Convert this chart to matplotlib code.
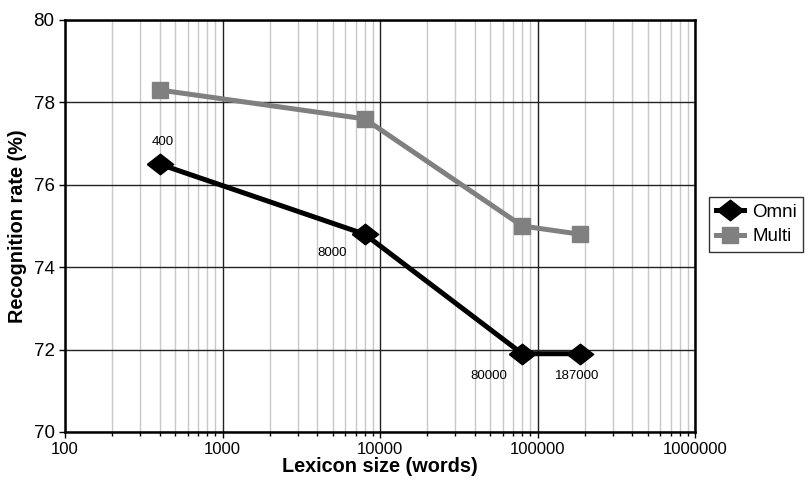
import matplotlib.pyplot as plt
from matplotlib.ticker import LogLocator, FixedLocator, NullFormatter

plt.rcParams["font.family"] = ["Liberation Sans", "DejaVu Sans"]

# data
lexicon_size = [400, 8000, 80000, 187000]
omni_rate = [76.5, 74.8, 71.9, 71.9]
multi_rate = [78.3, 77.6, 75.0, 74.8]
point_labels = ["400", "8000", "80000", "187000"]
x_ticks = [100, 1000, 10000, 100000, 1000000]
x_tick_labels = ["100", "1000", "10000", "100000", "1000000"]
y_ticks = [70, 72, 74, 76, 78, 80]

# slightly wide diamond, like the Excel marker
wide_diamond = [(-1, 0), (0, 0.78), (1, 0), (0, -0.78), (-1, 0)]

fig = plt.figure(figsize=(8.1, 4.83), dpi=100)
ax = fig.add_axes([65 / 810, 51 / 483, 630 / 810, 412 / 483])

ax.set_xscale("log")
ax.set_xlim(100, 1000000)
ax.set_ylim(70, 80)

# grid
ax.xaxis.set_minor_locator(LogLocator(base=10, subs=range(2, 10)))
ax.xaxis.set_minor_formatter(NullFormatter())
ax.grid(True, which="minor", axis="x", color="#c8c8c8", lw=1)
ax.grid(True, which="major", axis="x", color="#222222", lw=1)
ax.grid(True, which="major", axis="y", color="#222222", lw=1)
ax.set_axisbelow(True)

ax.plot(lexicon_size, multi_rate, color="#808080", lw=3.6, marker="s",
        markersize=12, label="Multi", zorder=3)
ax.plot(lexicon_size, omni_rate, color="black", lw=3.6, marker=wide_diamond,
        markersize=19, label="Omni", zorder=4)

# point labels on the Omni series (offsets in pixels)
offsets = [(3, 22, "center"), (-18, -19, "right"), (-15, -22, "right"), (-3, -22, "center")]
for x, y, txt, (dx, dy, ha) in zip(lexicon_size, omni_rate, point_labels, offsets):
    ax.annotate(txt, (x, y), xytext=(dx, dy), textcoords="offset pixels",
                fontsize=9.5, ha=ha, va="center")

ax.xaxis.set_major_locator(FixedLocator(x_ticks))
ax.set_xticklabels(x_tick_labels)
ax.set_yticks(y_ticks)
ax.tick_params(axis="both", which="major", direction="out", length=4,
               width=1, colors="black")
ax.tick_params(axis="x", which="minor", direction="out", length=3, width=1)
ax.tick_params(axis="y", labelsize=13.5)
ax.tick_params(axis="x", labelsize=12)

for side in ["left", "bottom", "top", "right"]:
    ax.spines[side].set_linewidth(1.8)
    ax.spines[side].set_color("black")

ax.set_xlabel("Lexicon size (words)", fontsize=14.3, fontweight="bold", labelpad=0)
ax.set_ylabel("Recognition rate (%)", fontsize=14.3, fontweight="bold", labelpad=5)

handles, labels = ax.get_legend_handles_labels()
leg = fig.legend(handles[::-1], labels[::-1], loc="upper left",
                 bbox_to_anchor=(709 / 810, 1 - 197 / 483), fontsize=13.5,
                 frameon=True, fancybox=False, edgecolor="black",
                 handlelength=1.5, borderpad=0.35, labelspacing=0.4,
                 handletextpad=0.45, borderaxespad=0)
leg.get_frame().set_linewidth(1)

fig.savefig("out.png", dpi=100)
